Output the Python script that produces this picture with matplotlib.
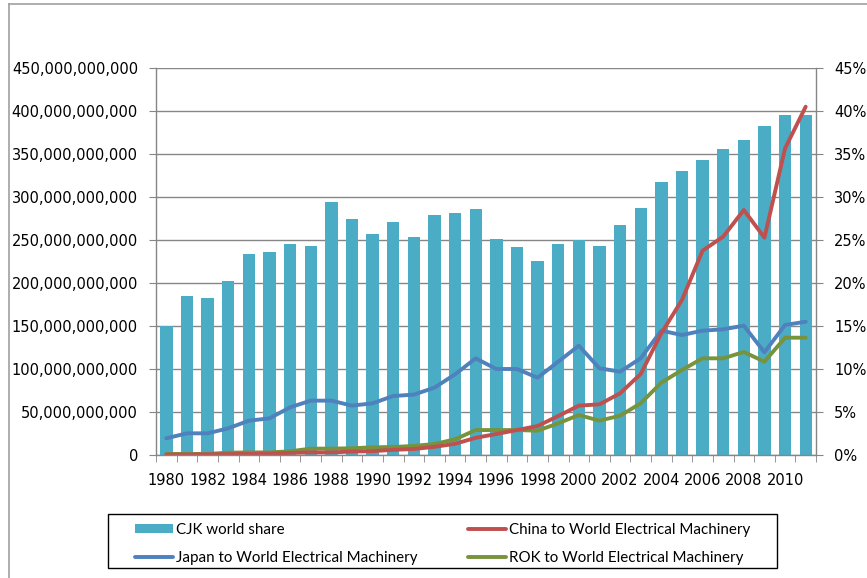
import matplotlib
matplotlib.use("Agg")
import matplotlib.pyplot as plt
from matplotlib.lines import Line2D
from matplotlib.patches import Rectangle
from matplotlib.ticker import FuncFormatter, MultipleLocator, FixedLocator
import numpy as np

years = list(range(1980, 2012))

# CJK share of world exports (percent, right axis)
cjk_share = [15.0, 18.5, 18.3, 20.2, 23.4, 23.6, 24.5, 24.3, 29.4, 27.4,
             25.7, 27.1, 25.4, 27.9, 28.1, 28.6, 25.1, 24.2, 22.6, 24.5,
             25.0, 24.3, 26.7, 28.7, 31.8, 33.0, 34.3, 35.6, 36.6, 38.2,
             39.5, 39.5]

# Exports of electrical machinery to the world (billions USD, left axis)
china = [0.5, 0.5, 0.8, 1.0, 1.2, 1.5, 2.5, 3.0, 3.0, 4.0,
         4.5, 6.0, 7.0, 9.5, 13.0, 20.0, 24.4, 29.0, 33.7, 45.3,
         57.4, 58.9, 71.7, 94.2, 141.5, 180.2, 237.6, 253.9, 284.9, 252.7,
         356.6, 405.0]
japan = [19.4, 25.2, 25.2, 31.0, 39.9, 42.6, 55.4, 63.2, 63.2, 57.4,
         60.1, 68.6, 70.2, 78.3, 93.8, 112.4, 100.0, 100.0, 89.9, 108.5,
         127.1, 100.8, 96.9, 112.4, 144.6, 139.5, 144.6, 146.1, 150.4, 119.4,
         151.2, 155.0]
rok = [1.2, 1.2, 1.2, 2.7, 3.0, 3.0, 4.3, 7.4, 7.4, 7.8,
       8.9, 9.3, 10.5, 12.8, 18.2, 29.0, 29.0, 29.0, 28.3, 36.8,
       46.5, 39.9, 45.7, 60.1, 84.1, 98.8, 112.4, 112.4, 119.8, 108.5,
       136.4, 136.4]

year_labels = [str(y) for y in range(1980, 2012, 2)]

bar_color = "#4BACC6"
china_color = "#C0504D"
japan_color = "#4F81BD"
rok_color = "#77933C"
axis_gray = "#868686"

W, H = 867, 578
fig = plt.figure(figsize=(W / 100, H / 100), dpi=100)
ax = fig.add_axes([156 / W, 1 - 455 / H, (816 - 156) / W, (455 - 68) / H])
ax2 = ax.twinx()

x = np.arange(len(years))
scale = 1e9

# bars on the secondary (percent) axis, behind the lines
ax2.bar(x, cjk_share, width=0.6, color=bar_color, zorder=2, label="CJK world share")
ax2.set_ylim(0, 45)
ax2.yaxis.set_major_locator(MultipleLocator(5))
ax2.yaxis.set_major_formatter(FuncFormatter(lambda v, p: f"{v:.0f}%"))
ax2.set_axisbelow(True)
ax2.grid(axis="y", color=axis_gray, linewidth=1.0, zorder=0)

lw = 2.8
ax.plot(x, np.array(japan) * scale, color=japan_color, lw=lw, label="Japan to World Electrical Machinery", solid_capstyle="round")
ax.plot(x, np.array(rok) * scale, color=rok_color, lw=lw, label="ROK to World Electrical Machinery", solid_capstyle="round")
ax.plot(x, np.array(china) * scale, color=china_color, lw=lw, label="China to World Electrical Machinery", solid_capstyle="round")
ax.set_ylim(0, 450e9)
ax.yaxis.set_major_locator(MultipleLocator(50e9))
ax.yaxis.set_major_formatter(FuncFormatter(lambda v, p: f"{v:,.0f}"))

ax.set_zorder(ax2.get_zorder() + 1)
ax.patch.set_visible(False)

ax.set_xlim(-0.5, len(years) - 0.5)
ax.xaxis.set_major_locator(FixedLocator(list(range(0, len(years), 2))))
ax.set_xticklabels(year_labels)
ax.xaxis.set_minor_locator(FixedLocator(list(np.arange(-0.5, len(years), 1.0))))
ax.tick_params(axis="x", which="major", length=0, pad=13, labelsize=10.5)
ax.tick_params(axis="x", which="minor", length=5, color=axis_gray, direction="out")
ax.tick_params(axis="y", length=5, color=axis_gray, labelsize=10.5, pad=8)
ax2.tick_params(axis="y", length=5, color=axis_gray, labelsize=10.5, pad=8)

for a in (ax, ax2):
    for side in ("left", "right", "bottom"):
        a.spines[side].set_color(axis_gray)
        a.spines[side].set_linewidth(1.0)
    a.spines["top"].set_visible(False)
ax.spines["right"].set_visible(False)
ax2.spines["left"].set_visible(False)
ax2.spines["bottom"].set_visible(False)

# legend below the chart, with its own frame
bar_h, bar_l = ax2.get_legend_handles_labels()
h, l = ax.get_legend_handles_labels()
handles = [bar_h[0], h[0], h[2], h[1]]
labels = [bar_l[0], l[0], l[2], l[1]]
leg = fig.legend(handles, labels, ncol=2, loc="upper left",
                 bbox_to_anchor=(135 / W, 1 - 523 / H),
                 frameon=False, borderpad=0, borderaxespad=0,
                 prop={"family": "Lato", "size": 10.9}, handlelength=2.5, handleheight=0.6,
                 handletextpad=0.2, labelspacing=0.92, columnspacing=3.33)
fig.add_artist(Rectangle((108 / W, 1 - 568 / H), (777 - 108) / W, (568 - 514) / H,
                         transform=fig.transFigure, fill=False, edgecolor="black", lw=1.0))

# outer chart frame
fig.add_artist(Line2D([9 / W, 1.0], [1 - 4 / H, 1 - 4 / H], color="#A0A0A0", lw=1.2, transform=fig.transFigure))
fig.add_artist(Line2D([9 / W, 9 / W], [0.0, 1 - 4 / H], color="#A0A0A0", lw=1.2, transform=fig.transFigure))

fig.savefig("out.png", dpi=100)
